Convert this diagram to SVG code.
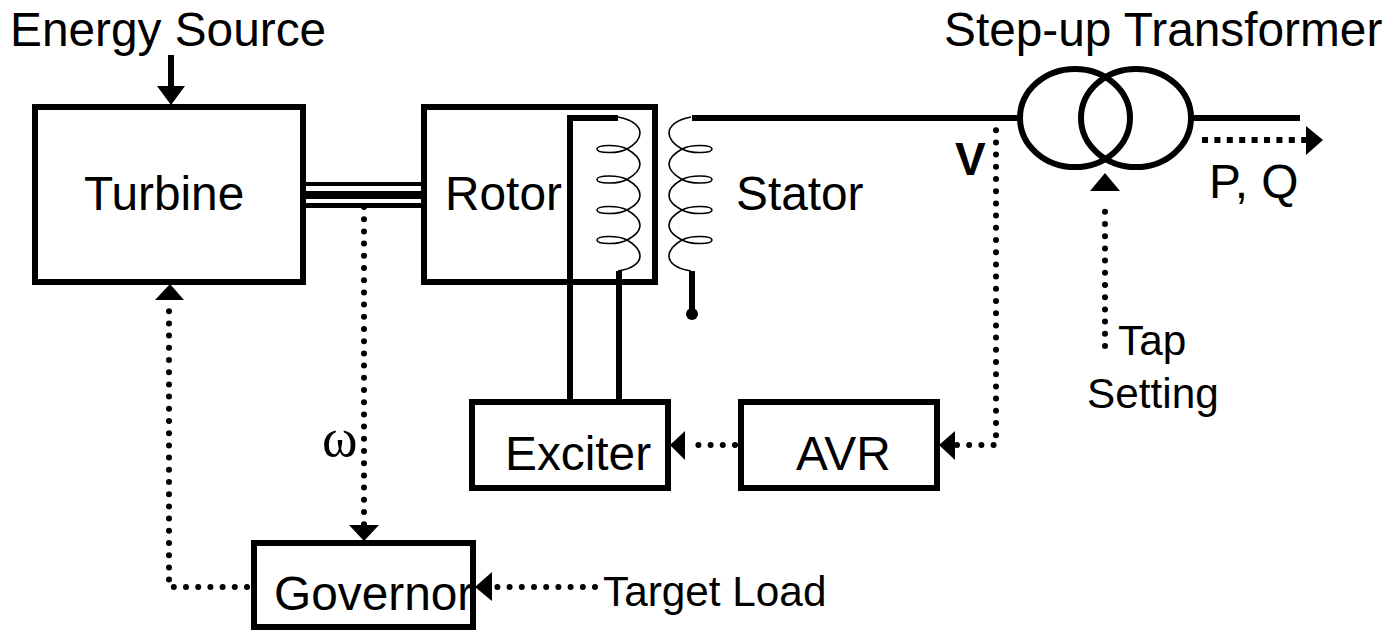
<svg xmlns="http://www.w3.org/2000/svg" width="1391" height="630" viewBox="0 0 1391 630">
<style>
text{font-family:"Liberation Sans",Arial,sans-serif;font-size:47.800px;fill:#000}
.box{fill:#fff;stroke:#000;stroke-width:6}
.thick{fill:none;stroke:#000;stroke-width:6}
.dot{fill:none;stroke:#000;stroke-width:6;stroke-linecap:round;stroke-dasharray:0 12.2}
.coil{fill:none;stroke:#000;stroke-width:1.6}
.sm{font-size:42.300px}
</style>
<defs>
<path id="coil" class="coil" d="M618,117C634,120 640,127 640,133C640,140 634,145 627,149C618,154 597,153.500 597,149C597,144.500 618,144 627,149C634,153 640,158 640,164C640,171 634,175.500 627,179.500C618,184.500 597,184 597,179.500C597,175 618,174.500 627,179.500C634,183.500 640,189 640,195C640,202 634,206 627,210C618,215 597,214.500 597,210C597,205.500 618,205 627,210C634,214 640,219 640,225C640,232 634,236 627,240C618,245 597,244.500 597,240C597,235.500 618,235 627,240C634,244 640,250 640,256C640,263 632,269 618,271"/>
</defs>
<g id="turbine"><rect class="box" x="35" y="107" width="268" height="175"/><text x="84" y="210">Turbine</text></g>
<g id="rotor"><rect class="box" x="424" y="107" width="231" height="175"/><text x="445" y="210">Rotor</text><use href="#coil"/></g>
<g id="stator"><use href="#coil" transform="translate(1309,0) scale(-1,1)"/><text x="736" y="210">Stator</text></g>
<g id="transformer"><ellipse class="thick" cx="1075" cy="118" rx="55" ry="49"/><ellipse class="thick" cx="1136" cy="118" rx="55" ry="49"/><text x="944" y="46">Step-up Transformer</text></g>
<g id="exciter"><rect class="box" x="472" y="402" width="196" height="86"/><text x="505" y="470">Exciter</text></g>
<g id="avr"><rect class="box" x="741" y="402" width="196" height="86"/><text x="796" y="470">AVR</text></g>
<g id="governor"><rect class="box" x="254" y="543" width="219" height="84"/><text x="274" y="610">Governor</text></g>
<g id="connectors">
<path class="thick" style="stroke-width:4" d="M303,184H424"/>
<path class="thick" style="stroke-width:8" d="M303,195H424"/>
<path class="thick" style="stroke-width:5" d="M303,205.500H424"/>
<path class="thick" d="M570,402V118H618M619,402V271M692,118H1020M1191,118H1300M692,271V314"/>
<circle cx="692" cy="314" r="6"/>
<path class="thick" d="M171,55V88"/>
<polygon points="157,86 185,86 171,105"/>
<path class="dot" d="M364,207V525"/>
<polygon points="349,525 379,525 364,541"/>
<path class="dot" d="M247,587H169V300"/>
<polygon points="155,300 184,300 170,284"/>
<path class="dot" d="M595,587H497"/>
<polygon points="492,572 492,601 475,587"/>
<path class="dot" d="M735,445H690"/>
<polygon points="685,431 685,460 670,445"/>
<path class="dot" d="M996,118V445H957"/>
<polygon points="955,431 955,460 939,445"/>
<path class="dot" d="M1105,346V200"/>
<polygon points="1090,191 1120,191 1105,173"/>
<path d="M1202,140H1306" fill="none" stroke="#000" stroke-width="6" stroke-dasharray="6 6.400"/>
<polygon points="1306,126 1323,140 1306,155"/>
</g>
<g id="labels">
<text x="10" y="46">Energy Source</text>
<text x="955" y="175" style="font-weight:bold;font-size:46px">V</text>
<text x="1209" y="198">P, Q</text>
<text x="322" y="456" style="font-family:'Liberation Serif',serif;font-size:54px">ω</text>
<text class="sm" x="1118" y="355">Tap</text>
<text class="sm" x="1087" y="408">Setting</text>
<text class="sm" x="603" y="606">Target Load</text>
</g>
</svg>
